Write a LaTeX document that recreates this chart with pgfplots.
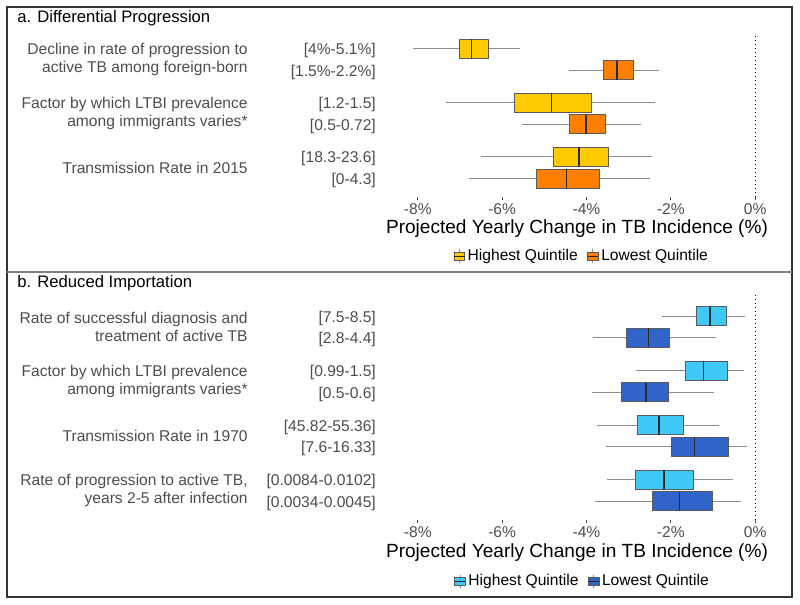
\documentclass[border=0pt]{standalone}
\usepackage{fontspec}
\setmainfont{Liberation Sans}
\usepackage{pgfplots}
\usepackage{pgfplotstable}
\pgfplotsset{compat=1.18}
\usepgfplotslibrary{statistics}

\definecolor{yellowc}{HTML}{FFCA00}
\definecolor{orangec}{HTML}{FF7F00}
\definecolor{lbluec}{HTML}{40C8F8}
\definecolor{dbluec}{HTML}{3164CB}
\definecolor{wgray}{HTML}{8C8C8C}
\definecolor{bgray}{HTML}{5A5A5A}
\definecolor{mgray}{HTML}{2A2A2A}
\definecolor{tlgray}{HTML}{4D4D4D}

\pgfplotstableread{
lw lq med uq uw
-8.12 -7.02 -6.73 -6.33 -5.57
-4.42 -3.60 -3.28 -2.88 -2.27
-7.34 -5.70 -4.83 -3.87 -2.37
-5.54 -4.40 -4.01 -3.55 -2.71
-6.50 -4.79 -4.18 -3.47 -2.45
-6.78 -5.19 -4.47 -3.69 -2.49
}\tabA

\pgfplotstableread{
lw lq med uq uw
-2.20 -1.40 -1.07 -0.69 -0.25
-3.84 -3.06 -2.53 -2.04 -0.93
-2.83 -1.64 -1.23 -0.66 -0.27
-3.86 -3.17 -2.59 -2.05 -0.98
-3.75 -2.80 -2.28 -1.69 -0.85
-3.54 -1.98 -1.44 -0.63 -0.19
-3.51 -2.83 -2.16 -1.47 -0.52
-3.80 -2.43 -1.80 -1.01 -0.34
}\tabB

\newcommand{\bx}[4]{%
 \pgfplotstablegetelem{#2}{lw}\of#1\edef\vlw{\pgfplotsretval}%
 \pgfplotstablegetelem{#2}{lq}\of#1\edef\vlq{\pgfplotsretval}%
 \pgfplotstablegetelem{#2}{med}\of#1\edef\vmed{\pgfplotsretval}%
 \pgfplotstablegetelem{#2}{uq}\of#1\edef\vuq{\pgfplotsretval}%
 \pgfplotstablegetelem{#2}{uw}\of#1\edef\vuw{\pgfplotsretval}%
 \edef\doplot{\noexpand\addplot[forget plot, draw=wgray, line width=0.75pt,
 boxplot prepared={draw position=#3, lower whisker=\vlw, lower quartile=\vlq, median=\vmed, upper quartile=\vuq, upper whisker=\vuw, box extend=0.35, whisker extend=0},
 boxplot/every box/.style={draw=bgray, fill=#4, line width=0.75pt},
 boxplot/every median/.style={draw=mgray, line width=1pt}] coordinates {};}%
 \doplot}

\newcommand{\keycode}[1]{%
 \draw[wgray,line width=0.6pt](4pt,-5pt)--(4pt,5pt);
 \draw[fill=#1,draw=bgray,line width=0.6pt](0pt,-3pt) rectangle (8pt,3pt);
 \draw[mgray,line width=0.6pt](0pt,0pt)--(8pt,0pt);}

\pgfplotsset{
 keyy/.style={legend image code/.code={\keycode{yellowc}}},
 keyo/.style={legend image code/.code={\keycode{orangec}}},
 keyl/.style={legend image code/.code={\keycode{lbluec}}},
 keyd/.style={legend image code/.code={\keycode{dbluec}}},
 panel/.style={
  scale only axis, width=292.5pt, xmin=-8.85, xmax=0.4,
  clip=false,
  axis x line*=bottom, axis y line*=left, axis line style={draw=none},
  ytick=\empty, xtick={-8,-6,-4,-2,0},
  xticklabels={-8\%,-6\%,-4\%,-2\%,0\%},
  xtick style={draw=tlgray, line width=0.6pt},
  tick align=outside, major tick length=2.5pt,
  xticklabel style={font=\fontsize{11.7}{14}\selectfont, text=tlgray, yshift=1pt},
  legend style={draw=none, fill=none, font=\fontsize{11.7}{14}\selectfont,
    legend columns=2, /tikz/every even column/.append style={column sep=5pt},
    nodes={inner xsep=2pt}},
  legend cell align=left,
 },
}
\tikzset{
 lab/.style={font=\fontsize{11.7}{13.1}\selectfont, text=tlgray, align=right, inner sep=0pt, anchor=east},
 brk/.style={font=\fontsize{11.7}{13.1}\selectfont, text=tlgray, inner sep=0pt, anchor=east, yshift=-1.5pt},
}

\begin{document}
\begin{tikzpicture}
\useasboundingbox (0pt,0pt) rectangle (600pt,453.75pt);
% frame
\draw[black!80, line width=0.9pt] (5.25pt,6pt) rectangle (594pt,448.5pt);
\draw[gray, line width=1.3pt] (5.25pt,249.75pt) -- (594pt,249.75pt);
\node[anchor=west, inner sep=0pt, font=\fontsize{12.5}{15}\selectfont] at (12.75pt,440.25pt) {a. Differential Progression};
\node[anchor=west, inner sep=0pt, font=\fontsize{12.5}{15}\selectfont] at (12.75pt,241.1pt) {b. Reduced Importation};

% panel a
\begin{axis}[panel, at={(286.5pt,306pt)}, anchor=south west, height=123pt,
  ymin=0.46, ymax=3.49,
  legend style={at={(0.513,-0.36)}, anchor=center}]
\addlegendimage{keyy}\addlegendentry{Highest Quintile}
\addlegendimage{keyo}\addlegendentry{Lowest Quintile}
\addplot[forget plot, black, line width=0.9pt, dash pattern=on 0.9pt off 2.1pt] coordinates {(0,0.46) (0,3.49)};
\bx{\tabA}{0}{3.2}{yellowc}
\bx{\tabA}{1}{2.8}{orangec}
\bx{\tabA}{2}{2.2}{yellowc}
\bx{\tabA}{3}{1.8}{orangec}
\bx{\tabA}{4}{1.2}{yellowc}
\bx{\tabA}{5}{0.8}{orangec}
\node[lab] at (axis cs:-12.03,3) {Decline in rate of progression to\\active TB among foreign-born};
\node[lab] at (axis cs:-12.03,2) {Factor by which LTBI prevalence\\among immigrants varies*};
\node[lab] at (axis cs:-12.03,1) {Transmission Rate in 2015};
\node[brk] at (axis cs:-8.99,3.2) {[4\%-5.1\%]};
\node[brk] at (axis cs:-8.99,2.8) {[1.5\%-2.2\%]};
\node[brk] at (axis cs:-8.99,2.2) {[1.2-1.5]};
\node[brk] at (axis cs:-8.99,1.8) {[0.5-0.72]};
\node[brk] at (axis cs:-8.99,1.2) {[18.3-23.6]};
\node[brk] at (axis cs:-8.99,0.8) {[0-4.3]};
\node[font=\fontsize{14.3}{17}\selectfont] at (rel axis cs:0.5,-0.19) {Projected Yearly Change in TB Incidence (\%)};
\end{axis}

% panel b
\begin{axis}[panel, at={(286.5pt,63.75pt)}, anchor=south west, height=168.75pt,
  ymin=0.459, ymax=4.587,
  legend style={at={(0.515,-0.272)}, anchor=center}]
\addlegendimage{keyl}\addlegendentry{Highest Quintile}
\addlegendimage{keyd}\addlegendentry{Lowest Quintile}
\addplot[forget plot, black, line width=0.9pt, dash pattern=on 0.9pt off 2.1pt] coordinates {(0,0.459) (0,4.587)};
\bx{\tabB}{0}{4.2}{lbluec}
\bx{\tabB}{1}{3.8}{dbluec}
\bx{\tabB}{2}{3.2}{lbluec}
\bx{\tabB}{3}{2.8}{dbluec}
\bx{\tabB}{4}{2.2}{lbluec}
\bx{\tabB}{5}{1.8}{dbluec}
\bx{\tabB}{6}{1.2}{lbluec}
\bx{\tabB}{7}{0.8}{dbluec}
\node[lab] at (axis cs:-12.03,4) {Rate of successful diagnosis and\\treatment of active TB};
\node[lab] at (axis cs:-12.03,3) {Factor by which LTBI prevalence\\among immigrants varies*};
\node[lab] at (axis cs:-12.03,2) {Transmission Rate in 1970};
\node[lab] at (axis cs:-12.03,1) {Rate of progression to active TB,\\years 2-5 after infection};
\node[brk] at (axis cs:-8.99,4.2) {[7.5-8.5]};
\node[brk] at (axis cs:-8.99,3.8) {[2.8-4.4]};
\node[brk] at (axis cs:-8.99,3.2) {[0.99-1.5]};
\node[brk] at (axis cs:-8.99,2.8) {[0.5-0.6]};
\node[brk] at (axis cs:-8.99,2.2) {[45.82-55.36]};
\node[brk] at (axis cs:-8.99,1.8) {[7.6-16.33]};
\node[brk] at (axis cs:-8.99,1.2) {[0.0084-0.0102]};
\node[brk] at (axis cs:-8.99,0.8) {[0.0034-0.0045]};
\node[font=\fontsize{14.3}{17}\selectfont] at (rel axis cs:0.5,-0.146) {Projected Yearly Change in TB Incidence (\%)};
\end{axis}
\end{tikzpicture}
\end{document}
